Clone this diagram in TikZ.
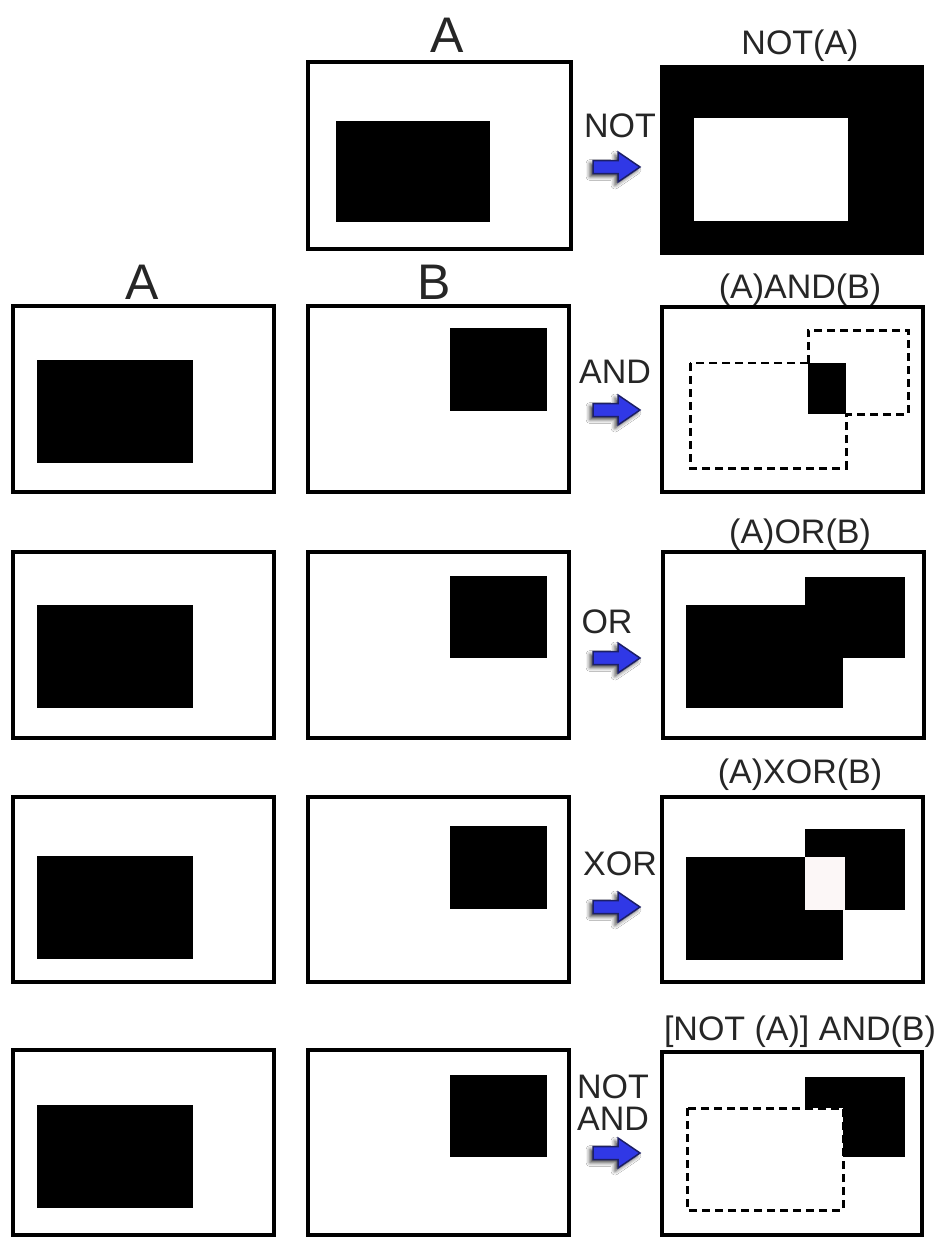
\documentclass[tikz,border=0pt]{standalone}
\usepackage{fontspec}
\setmainfont{Liberation Sans}
\usetikzlibrary{shadows.blur}
\definecolor{arrblue}{HTML}{3038E6}
\definecolor{arrline}{HTML}{1C1F66}
\definecolor{xorwhite}{HTML}{FCF7F7}
\tikzset{
  frame/.style={draw=black, line width=3.5pt, fill=white},
  blk/.style={fill=black},
  dbox/.style={draw=black, line width=3pt, dash pattern=on 8pt off 5pt},
  biglbl/.style={font=\fontsize{50}{56}\selectfont, inner sep=0pt, anchor=base, text=black!85},
  lbl/.style={font=\fontsize{34}{40}\selectfont, inner sep=0pt, anchor=base, text=black!85},
  oparrow/.style={fill=arrblue, draw=arrline, line width=1.5pt, line join=miter,
    blur shadow={shadow xshift=-3pt, shadow yshift=-3pt, shadow blur radius=4pt, shadow opacity=75}},
}
\newcommand{\oparrowat}[1]{%
  \draw[oparrow] (593,#1-6.5) -- (618,#1-6.5) -- (618,#1-15) -- (640,#1) -- (618,#1+15) -- (618,#1+6.5) -- (593,#1+6.5) -- cycle;}
\begin{document}
\begin{tikzpicture}[x=1pt,y=-1pt]
\useasboundingbox[fill=white] (0,0) rectangle (950,1237);

% ---------- Row 1: NOT ----------
\node[biglbl] (lA1) at (447,52) {A};
\draw[frame] (308,62) rectangle (571,249);
\fill[blk] (336,121) rectangle (490,222);
\node[lbl] (opNOT) at (620,137) {NOT};
\oparrowat{167}
\node[lbl] (rNOT) at (800,54) {NOT(A)};
\fill[blk] (660,65) rectangle (924,255);
\fill[white] (694,118) rectangle (848,221);

% ---------- column labels ----------
\node[biglbl] (lA) at (142,299) {A};
\node[biglbl] (lB) at (434,299) {B};

% ---------- Row 2: AND ----------
\draw[frame] (13,306) rectangle (274,492);
\fill[blk] (37,360) rectangle (193,463);
\draw[frame] (308,306) rectangle (569,492);
\fill[blk] (450,328) rectangle (547,411);
\node[lbl] (opAND) at (615,383) {AND};
\oparrowat{410}
\node[lbl] (rAND) at (800,298) {(A)AND(B)};
\draw[frame] (662,307) rectangle (923,492);
\draw[dbox, line width=1.5pt] (808,363) -- (690,363);
\draw[dbox] (690,363) -- (690,468) -- (846,468) -- (846,414);
\draw[dbox] (808,363) -- (808,330) -- (908,330) -- (908,414) -- (846,414);
\fill[blk] (808,363) rectangle (846,414);

% ---------- Row 3: OR ----------
\draw[frame] (13,552) rectangle (274,738);
\fill[blk] (37,605) rectangle (193,708);
\draw[frame] (308,552) rectangle (569,738);
\fill[blk] (450,576) rectangle (547,658);
\node[lbl] (opOR) at (607,633) {OR};
\oparrowat{658}
\node[lbl] (rOR) at (800,543) {(A)OR(B)};
\draw[frame] (663,552) rectangle (924,738);
\fill[blk] (686,605) rectangle (843,708);
\fill[blk] (805,577) rectangle (905,658);

% ---------- Row 4: XOR ----------
\draw[frame] (13,797) rectangle (274,982);
\fill[blk] (37,856) rectangle (193,959);
\draw[frame] (308,797) rectangle (569,982);
\fill[blk] (450,826) rectangle (547,909);
\node[lbl] (opXOR) at (620,875) {XOR};
\oparrowat{907}
\node[lbl] (rXOR) at (800,783) {(A)XOR(B)};
\draw[frame] (662,797) rectangle (923,982);
\fill[blk] (686,857) rectangle (843,960);
\fill[blk] (805,829) rectangle (905,910);
\fill[xorwhite] (805,857) rectangle (845,910);

% ---------- Row 5: NOT AND ----------
\draw[frame] (13,1050) rectangle (274,1235);
\fill[blk] (37,1105) rectangle (193,1208);
\draw[frame] (308,1050) rectangle (569,1235);
\fill[blk] (450,1075) rectangle (547,1157);
\node[lbl] (opNOT2) at (613,1098) {NOT};
\node[lbl] (opAND2) at (613,1130) {AND};
\oparrowat{1153}
\node[lbl] (rNOTAND) at (800,1040) {[NOT (A)] AND(B)};
\draw[frame] (662,1052) rectangle (922,1235);
\fill[blk] (805,1077) rectangle (905,1157);
\draw[dbox, fill=white] (687,1108) rectangle (843,1210);
\end{tikzpicture}
\end{document}
